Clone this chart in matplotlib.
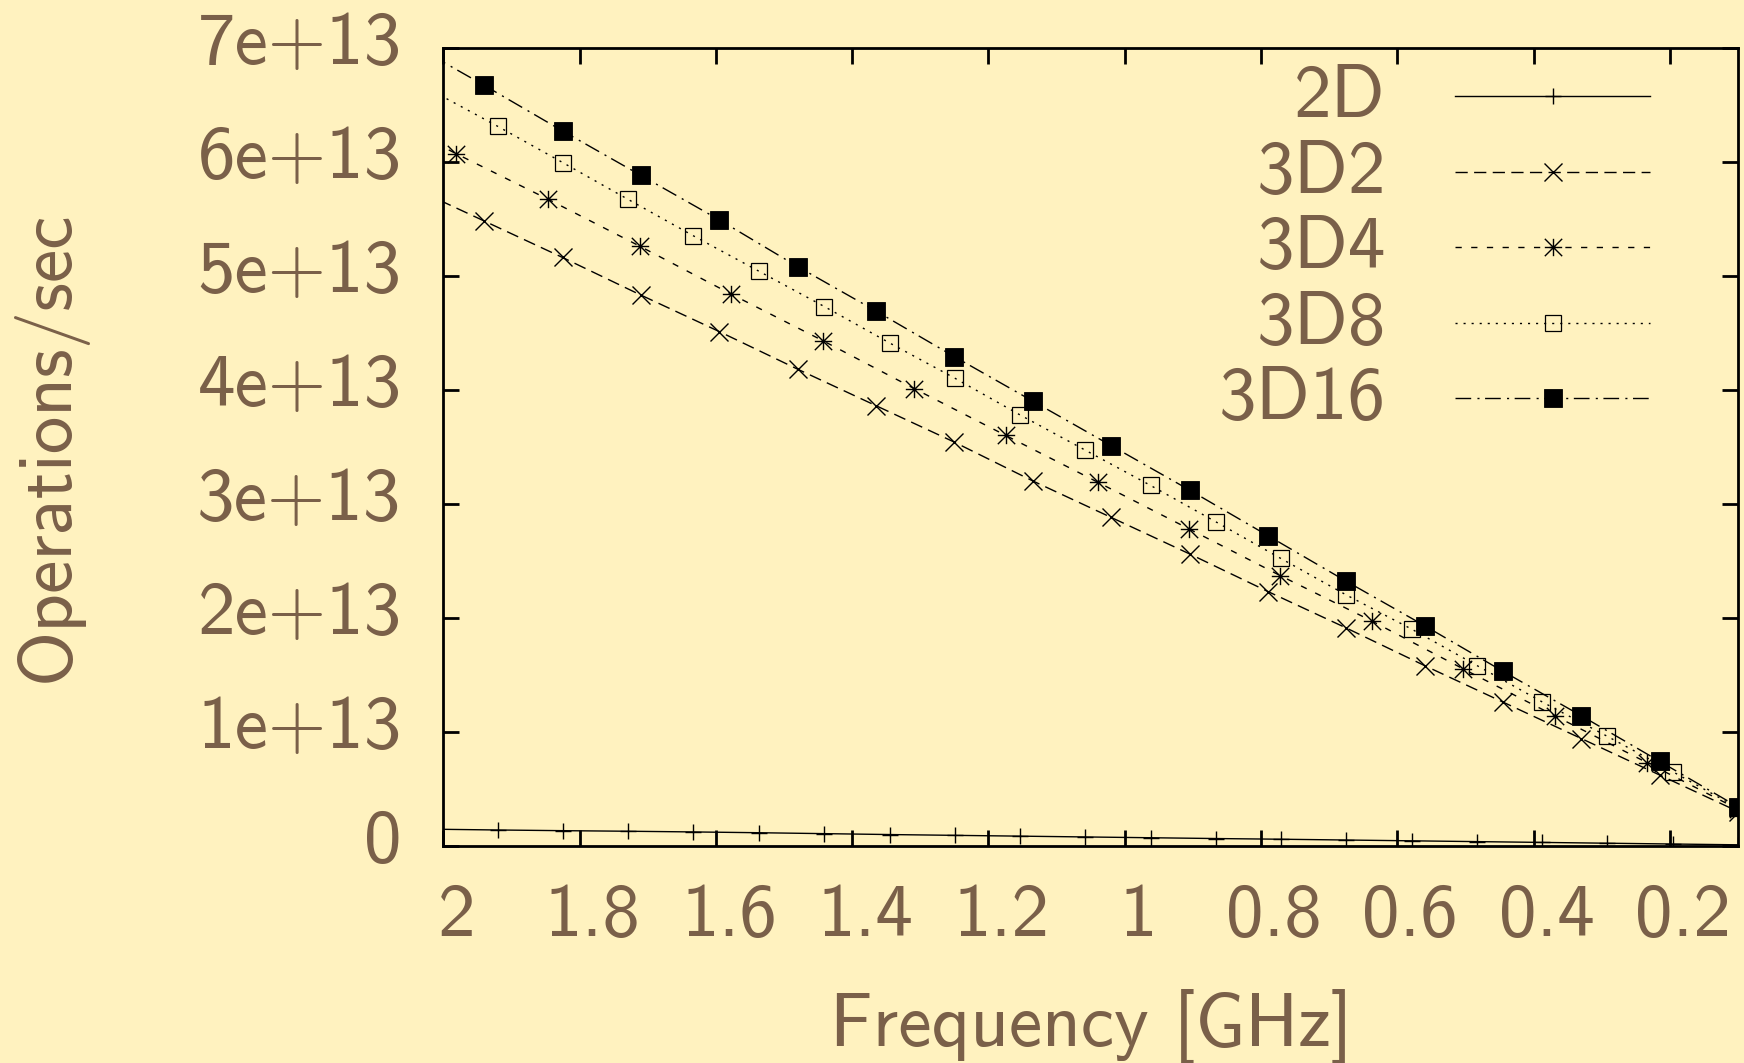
import matplotlib
matplotlib.use("Agg")
import matplotlib.pyplot as plt
from matplotlib.path import Path
from matplotlib.transforms import ScaledTranslation

# ---- data: clock frequency [GHz] and throughput [1e13 operations/sec] ----
# (the first entry of each series lies just beyond the 2 GHz edge of the plot)
freq_2d = [2.016, 1.920, 1.824, 1.729, 1.633, 1.537, 1.441, 1.345, 1.249, 1.154,
           1.058, 0.962, 0.866, 0.771, 0.675, 0.579, 0.483, 0.387, 0.292, 0.196, 0.100]
ops_2d = [0.145, 0.138, 0.132, 0.127, 0.121, 0.114, 0.106, 0.098, 0.091, 0.084,
          0.077, 0.070, 0.063, 0.057, 0.050, 0.043, 0.036, 0.029, 0.022, 0.015, 0.008]

freq_3d2 = [2.055, 1.940, 1.825, 1.710, 1.595, 1.480, 1.365, 1.250, 1.135,
            1.020, 0.905, 0.790, 0.675, 0.560, 0.445, 0.330, 0.215, 0.100]
ops_3d2 = [5.80, 5.48, 5.16, 4.83, 4.51, 4.18, 3.86, 3.54, 3.20,
           2.88, 2.56, 2.23, 1.91, 1.58, 1.26, 0.94, 0.62, 0.30]

freq_3d4 = [2.115, 1.981, 1.846, 1.712, 1.578, 1.443, 1.309, 1.175,
            1.040, 0.906, 0.772, 0.637, 0.503, 0.369, 0.234, 0.100]
ops_3d4 = [6.48, 6.07, 5.67, 5.26, 4.84, 4.43, 4.01, 3.60,
           3.19, 2.78, 2.37, 1.97, 1.55, 1.14, 0.73, 0.32]

freq_3d8 = [2.016, 1.920, 1.824, 1.729, 1.633, 1.537, 1.441, 1.345, 1.249, 1.154,
            1.058, 0.962, 0.866, 0.771, 0.675, 0.579, 0.483, 0.387, 0.292, 0.196, 0.100]
ops_3d8 = [6.62, 6.31, 5.99, 5.67, 5.35, 5.04, 4.73, 4.41, 4.10, 3.78,
           3.47, 3.16, 2.84, 2.52, 2.20, 1.90, 1.58, 1.26, 0.96, 0.65, 0.33]

freq_3d16 = [2.055, 1.940, 1.825, 1.710, 1.595, 1.480, 1.365, 1.250, 1.135,
             1.020, 0.905, 0.790, 0.675, 0.560, 0.445, 0.330, 0.215, 0.100]
ops_3d16 = [7.06, 6.67, 6.27, 5.88, 5.49, 5.08, 4.69, 4.29, 3.90,
            3.51, 3.12, 2.72, 2.32, 1.93, 1.53, 1.14, 0.74, 0.34]

series_labels = ["2D", "3D2", "3D4", "3D8", "3D16"]

x_ticks = [2.0, 1.8, 1.6, 1.4, 1.2, 1.0, 0.8, 0.6, 0.4, 0.2]
x_tick_labels = ["2", "1.8", "1.6", "1.4", "1.2", "1", "0.8", "0.6", "0.4", "0.2"]
y_ticks = [0, 1e13, 2e13, 3e13, 4e13, 5e13, 6e13, 7e13]
y_tick_labels = ["0", "1e+13", "2e+13", "3e+13", "4e+13", "5e+13", "6e+13", "7e+13"]

SCALE = 1e13

# ---- style ----
BG = "#fff2bf"
TEXT = "#7a6049"
FONT = "cmss10"
FS = 54

plt.rcParams["lines.scale_dashes"] = False
plt.rcParams["axes.unicode_minus"] = False

# gnuplot-style asterisk: a plus and a cross on top of each other
asterisk = Path(
    [(-1, 0), (1, 0), (0, -1), (0, 1), (-1, -1), (1, 1), (-1, 1), (1, -1)],
    [Path.MOVETO, Path.LINETO] * 4,
)

fig = plt.figure(figsize=(17.44, 10.63), dpi=100, facecolor=BG)
ax = fig.add_axes([0.2542, 0.2044, 0.7424, 0.7507])
ax.set_facecolor(BG)

lw = 1.0
common = dict(color="black", lw=lw, mew=1.0)
ax.plot(freq_2d, [v * SCALE for v in ops_2d], ls="-", marker="+", ms=11.5,
        label=series_labels[0], **common)
ax.plot(freq_3d2, [v * SCALE for v in ops_3d2], ls=(0, (8.8, 4.6)), marker="x",
        ms=12.5, label=series_labels[1], **common)
ax.plot(freq_3d4, [v * SCALE for v in ops_3d4], ls=(0, (4.5, 6.8)), marker=asterisk,
        ms=12.5, label=series_labels[2], **common)
ax.plot(freq_3d8, [v * SCALE for v in ops_3d8], ls=(0, (1.5, 4.3)), marker="s",
        ms=12.2, mfc="none", label=series_labels[3], color="black", lw=lw, mew=0.9)
ax.plot(freq_3d16, [v * SCALE for v in ops_3d16], ls=(0, (11.3, 4.5, 1.5, 4.0)),
        marker="s", ms=12.4, mfc="black", label=series_labels[4],
        color="black", lw=lw, mew=0.6)

ax.set_xlim(2.0, 0.1)
ax.set_ylim(0, 7e13)

for side in ax.spines.values():
    side.set_linewidth(2.0)
    side.set_color("black")

ax.set_xticks(x_ticks)
ax.set_xticklabels(x_tick_labels)
ax.set_yticks(y_ticks)
ax.set_yticklabels(y_tick_labels)
ax.tick_params(axis="both", which="major", direction="in", length=11.5, width=2.0,
               color="black", labelcolor=TEXT, labelsize=FS,
               top=True, right=True)
ax.tick_params(axis="x", pad=26.5)
ax.tick_params(axis="y", pad=30.0)
for lab in ax.get_xticklabels() + ax.get_yticklabels():
    lab.set_fontfamily(FONT)

# small offsets of the tick labels relative to their ticks
dx = ScaledTranslation(0.13, 0, fig.dpi_scale_trans)
dy = ScaledTranslation(0, 0.10, fig.dpi_scale_trans)
for t in ax.xaxis.get_major_ticks():
    t.label1.set_transform(t.label1.get_transform() + dx)
for t in ax.yaxis.get_major_ticks():
    t.label1.set_transform(t.label1.get_transform() + dy)

ax.set_xlabel("Frequency [GHz]", fontsize=FS, color=TEXT, fontfamily=FONT)
ax.set_ylabel("Operations/sec", fontsize=FS, color=TEXT, fontfamily=FONT)
ax.xaxis.set_label_coords(0.5, -0.251)
ax.xaxis.label.set_va("baseline")
ax.yaxis.set_label_coords(-0.290, 0.5)
ax.yaxis.label.set_va("baseline")

ax.legend(loc="upper right", bbox_to_anchor=(0.932, 0.979), frameon=False,
          markerfirst=False, numpoints=1, handlelength=2.6, handletextpad=0.92,
          labelspacing=0.1, borderpad=0, borderaxespad=0, handleheight=0.25,
          prop={"family": FONT, "size": FS}, labelcolor=TEXT)

fig.savefig("out.png", dpi=100, facecolor=BG)
